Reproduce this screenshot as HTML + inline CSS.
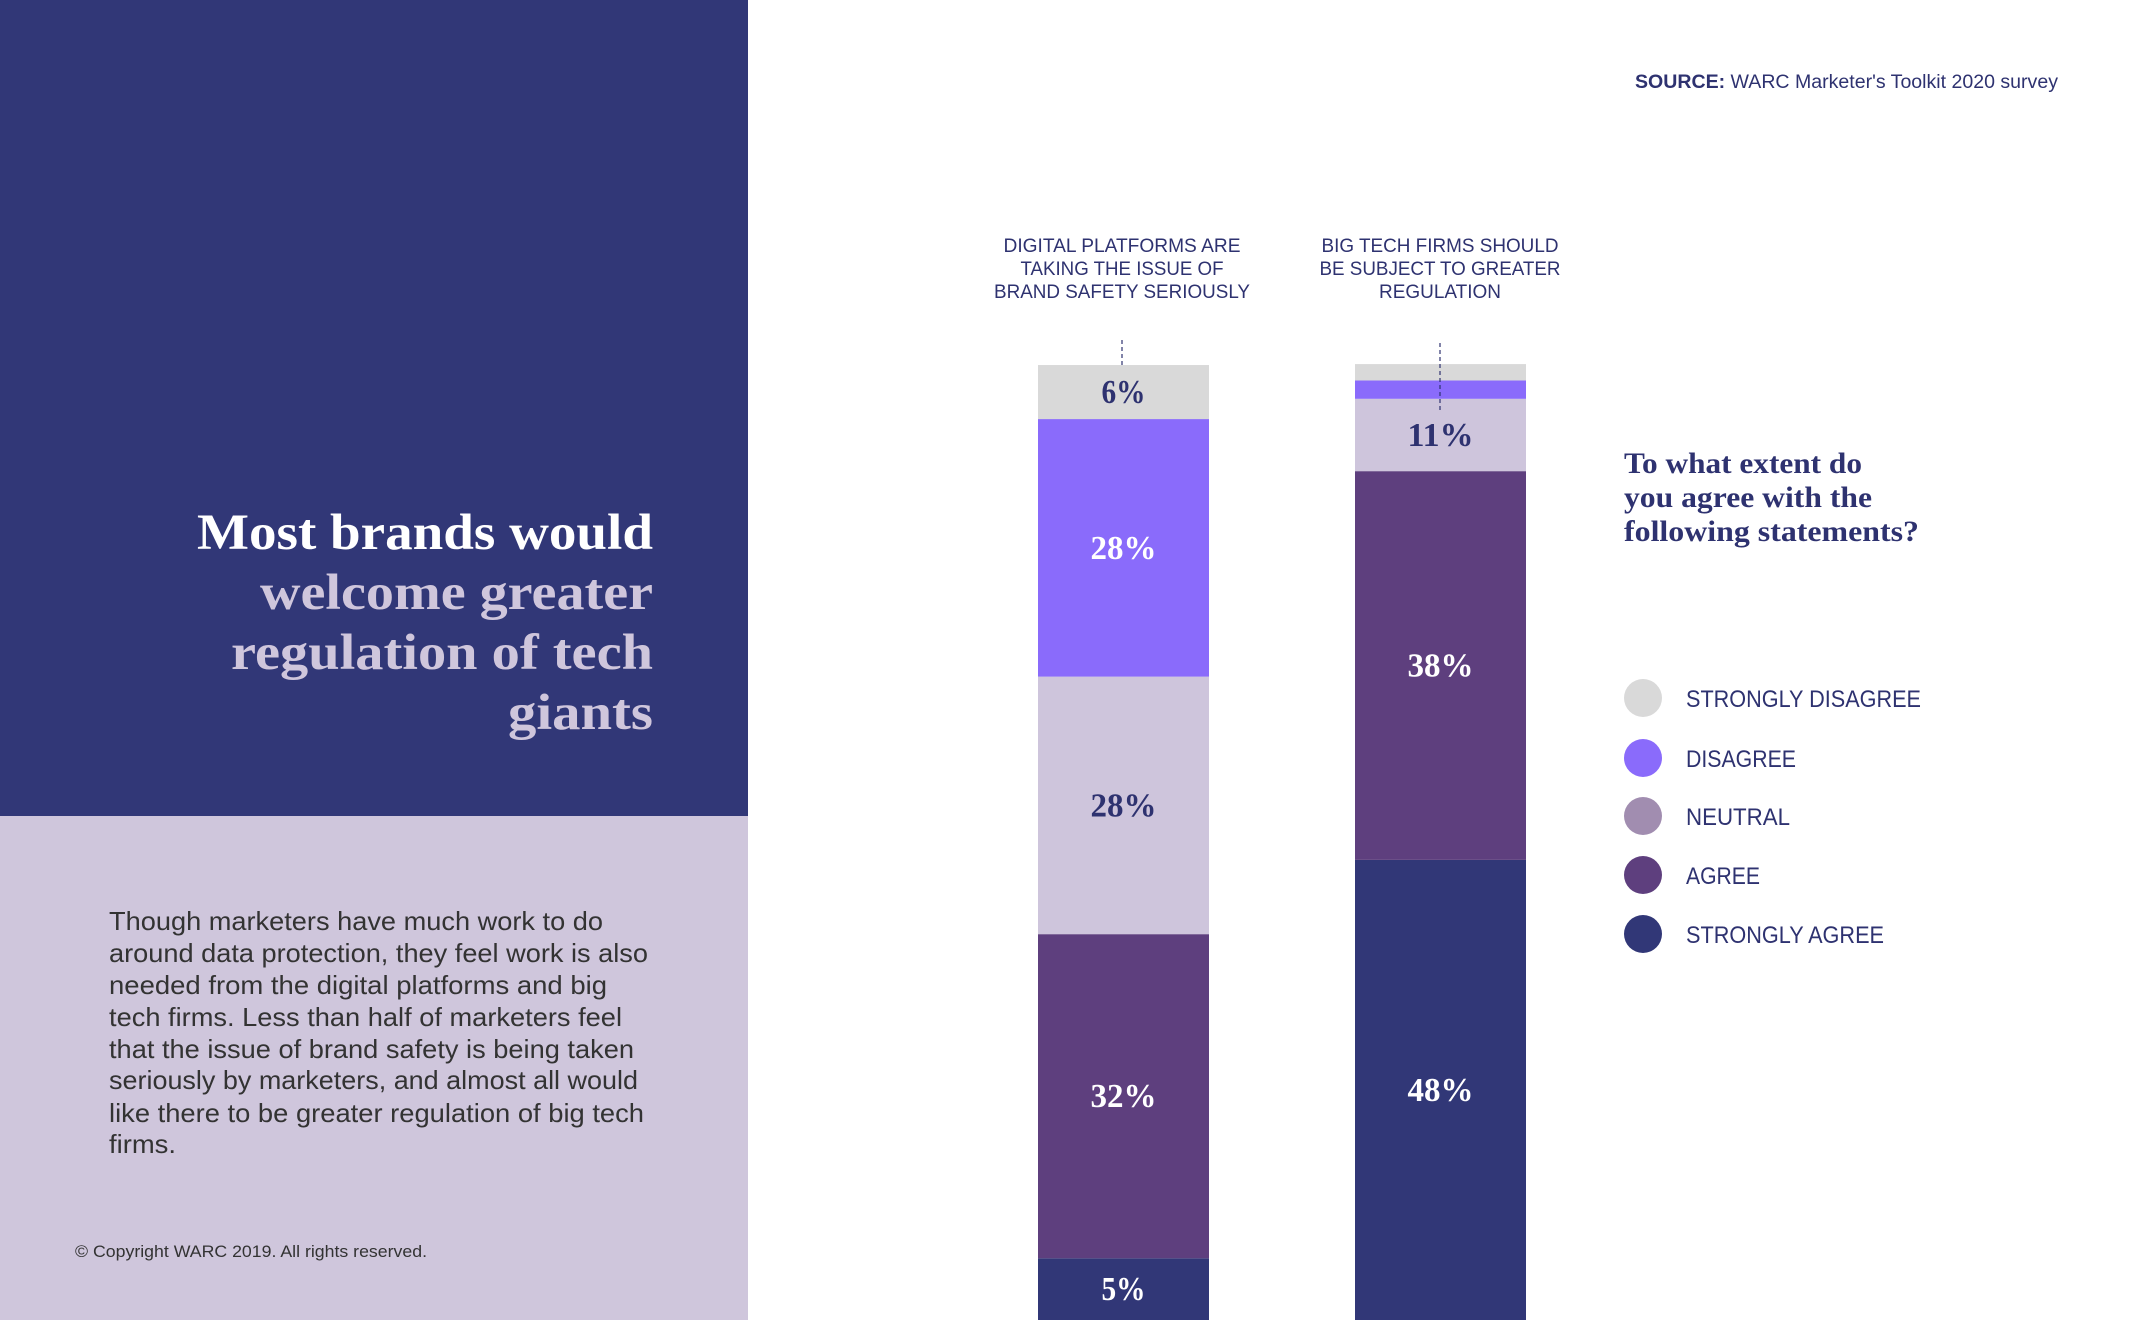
<!DOCTYPE html>
<html><head><meta charset="utf-8"><style>
html,body{margin:0;padding:0;background:#fff;}
svg{display:block;}
.sans{font-family:"Liberation Sans",sans-serif;}
.serif{font-family:"Liberation Serif",serif;font-weight:bold;}
</style></head><body>
<svg id="chart" width="2133" height="1320" viewBox="0 0 2133 1320" xmlns="http://www.w3.org/2000/svg">
<rect x="0" y="0" width="748" height="816" fill="#313777"/>
<rect x="0" y="816" width="748" height="504" fill="#cfc6dc"/>
<g class="serif" font-size="51" text-anchor="end">
<text x="653" y="549" fill="#ffffff" textLength="456" lengthAdjust="spacingAndGlyphs">Most brands would</text>
<text x="653" y="609" fill="#cfc6dc" textLength="393" lengthAdjust="spacingAndGlyphs">welcome greater</text>
<text x="653" y="669" fill="#cfc6dc" textLength="422" lengthAdjust="spacingAndGlyphs">regulation of tech</text>
<text x="653" y="729" fill="#cfc6dc" textLength="145" lengthAdjust="spacingAndGlyphs">giants</text>
</g>
<g class="sans" font-size="26" fill="#333333">
<text x="109" y="930" textLength="494" lengthAdjust="spacingAndGlyphs">Though marketers have much work to do</text>
<text x="109" y="962" textLength="539" lengthAdjust="spacingAndGlyphs">around data protection, they feel work is also</text>
<text x="109" y="994" textLength="498" lengthAdjust="spacingAndGlyphs">needed from the digital platforms and big</text>
<text x="109" y="1026" textLength="513" lengthAdjust="spacingAndGlyphs">tech firms. Less than half of marketers feel</text>
<text x="109" y="1058" textLength="525" lengthAdjust="spacingAndGlyphs">that the issue of brand safety is being taken</text>
<text x="109" y="1089" textLength="529" lengthAdjust="spacingAndGlyphs">seriously by marketers, and almost all would</text>
<text x="109" y="1122" textLength="535" lengthAdjust="spacingAndGlyphs">like there to be greater regulation of big tech</text>
<text x="109" y="1153" textLength="67" lengthAdjust="spacingAndGlyphs">firms.</text>
</g>
<text class="sans" x="75" y="1257" font-size="17" fill="#333333" textLength="352" lengthAdjust="spacingAndGlyphs">© Copyright WARC 2019. All rights reserved.</text>
<text class="sans" x="2058" y="88" font-size="19" fill="#2e3270" text-anchor="end" textLength="423" lengthAdjust="spacingAndGlyphs"><tspan font-weight="bold">SOURCE:</tspan> WARC Marketer's Toolkit 2020 survey</text>
<g class="sans" font-size="19" fill="#2e3270" text-anchor="middle">
<text x="1122" y="252" textLength="237" lengthAdjust="spacingAndGlyphs">DIGITAL PLATFORMS ARE</text>
<text x="1122" y="275" textLength="203" lengthAdjust="spacingAndGlyphs">TAKING THE ISSUE OF</text>
<text x="1122" y="298" textLength="256" lengthAdjust="spacingAndGlyphs">BRAND SAFETY SERIOUSLY</text>
</g>
<g class="sans" font-size="19" fill="#2e3270" text-anchor="middle">
<text x="1440" y="252" textLength="237" lengthAdjust="spacingAndGlyphs">BIG TECH FIRMS SHOULD</text>
<text x="1440" y="275" textLength="241" lengthAdjust="spacingAndGlyphs">BE SUBJECT TO GREATER</text>
<text x="1440" y="298" textLength="122" lengthAdjust="spacingAndGlyphs">REGULATION</text>
</g>
<g id="bars"></g>
<line x1="1122" y1="340" x2="1122" y2="365" stroke="#2e3270" stroke-width="1.2" stroke-dasharray="4,3"/>
<line x1="1440" y1="343" x2="1440" y2="410" stroke="#2e3270" stroke-width="1.2" stroke-dasharray="4,3"/>
<g class="serif" font-size="30" fill="#2e3270">
<text x="1624" y="473" textLength="238" lengthAdjust="spacingAndGlyphs">To what extent do</text>
<text x="1624" y="507" textLength="248" lengthAdjust="spacingAndGlyphs">you agree with the</text>
<text x="1624" y="541" textLength="295" lengthAdjust="spacingAndGlyphs">following statements?</text>
</g>
<g id="legend"></g>
</svg>
<script>
var categories = ["Digital platforms brand safety", "Big tech regulation"];
var seriesNames = ["STRONGLY DISAGREE", "DISAGREE", "NEUTRAL", "AGREE", "STRONGLY AGREE"];
var stronglyDisagree = [5.6, 1.7];
var disagree = [26.7, 1.9];
var neutral = [26.7, 7.5];
var agree = [33.6, 40.3];
var stronglyAgree = [6.4, 47.7];
var labelsStronglyDisagree = ["6%", ""];
var labelsDisagree = ["28%", ""];
var labelsNeutral = ["28%", "11%"];
var labelsAgree = ["32%", "38%"];
var labelsStronglyAgree = ["5%", "48%"];

var NS = "http://www.w3.org/2000/svg";
var barColors = ["#d9d9d9", "#8a6bfb", "#cec5dc", "#5e3f7e", "#313777"];
var legendColors = ["#d9d9d9", "#8a6bfb", "#a18db0", "#5e3f7e", "#313777"];
var labelColors = ["#2e3270", "#ffffff", "#2e3270", "#ffffff", "#ffffff"];
var baseline = 1320, pxPerPct = 9.646;
var barX = [1038, 1355], barW = 171;
function yScale(v) { return baseline - v * pxPerPct; }
function xBand(i) { return barX[i]; }
var series = [stronglyDisagree, disagree, neutral, agree, stronglyAgree];
var labels = [labelsStronglyDisagree, labelsDisagree, labelsNeutral, labelsAgree, labelsStronglyAgree];
var gBars = document.getElementById("bars");
for (var c = 0; c < categories.length; c++) {
  var cum = 0;
  for (var s = series.length - 1; s >= 0; s--) {
    var v = series[s][c];
    var y1 = yScale(cum + v), y0 = yScale(cum);
    var r = document.createElementNS(NS, "rect");
    r.setAttribute("x", xBand(c));
    r.setAttribute("y", y1);
    r.setAttribute("width", barW);
    r.setAttribute("height", y0 - y1);
    r.setAttribute("fill", barColors[s]);
    
    
    gBars.appendChild(r);
    if (labels[s][c]) {
      var t = document.createElementNS(NS, "text");
      t.setAttribute("x", xBand(c) + barW / 2);
      t.setAttribute("y", (y0 + y1) / 2 + 11);
      t.setAttribute("text-anchor", "middle");
      t.setAttribute("class", "serif");
      t.setAttribute("font-size", "34");
      t.setAttribute("fill", labelColors[s]);
      t.setAttribute("textLength", labels[s][c].length > 2 ? 66 : 44);
      t.setAttribute("lengthAdjust", "spacingAndGlyphs");
      t.textContent = labels[s][c];
      
      
      gBars.appendChild(t);
    }
    cum += v;
  }
}
var gLeg = document.getElementById("legend");
var legY = [698, 758, 816, 875, 934];
var legW = [235, 110, 104, 74, 198];
for (var i = 0; i < seriesNames.length; i++) {
  var cc = document.createElementNS(NS, "circle");
  cc.setAttribute("cx", 1643);
  cc.setAttribute("cy", legY[i]);
  cc.setAttribute("r", 19);
  cc.setAttribute("fill", legendColors[i]);
  
  
  gLeg.appendChild(cc);
  var lt = document.createElementNS(NS, "text");
  lt.setAttribute("x", 1686);
  lt.setAttribute("y", legY[i] + 9);
  lt.setAttribute("class", "sans");
  lt.setAttribute("font-size", "24");
  lt.setAttribute("fill", "#2e3270");
  lt.setAttribute("textLength", legW[i]);
  lt.setAttribute("lengthAdjust", "spacingAndGlyphs");
  lt.textContent = seriesNames[i];
  
  
  gLeg.appendChild(lt);
}
</script>
</body></html>
